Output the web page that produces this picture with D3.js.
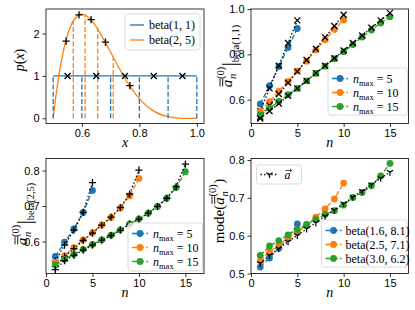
<!DOCTYPE html>
<html>
<head>
<meta charset="utf-8">
<script src="https://cdn.jsdelivr.net/npm/d3@7"></script>
<style>
  body { margin: 0; background: #fff; }
  svg { font-family: "Liberation Serif", "DejaVu Serif", serif; }
  .tick text { font-size: 11px; fill: #000; }
  .tick line { stroke: #000; stroke-width: 0.8; }
</style>
</head>
<body>
<script>
// ---- panel 1: densities on [0.5, 1] ----
var curveX = [0.5, 0.505, 0.51, 0.52, 0.53, 0.54, 0.55, 0.56, 0.575, 0.6, 0.625, 0.65, 0.675, 0.7, 0.725, 0.75, 0.775, 0.8, 0.85, 0.9, 0.95, 1.0];
var curveY = [0, 0.29, 0.55, 1.02, 1.40, 1.72, 1.97, 2.16, 2.35, 2.46, 2.37, 2.16, 1.87, 1.56, 1.24, 0.94, 0.68, 0.46, 0.17, 0.04, 0.00, 0];
var flatX = [0.5, 1.0];
var flatY = [1, 1];
var blueEdges = [0.5, 0.6, 0.7, 0.8, 0.9, 1.0];
var blueCenters = [0.55, 0.65, 0.75, 0.85, 0.95];
var orangeEdges = [0.570, 0.611, 0.655, 0.709];
var orangeEdgeH = [2.29, 2.45, 2.13, 1.46];
var orangeCenters = [0.545, 0.590, 0.632, 0.682, 0.767];
var orangeCenterH = [1.82, 2.44, 2.33, 1.80, 0.77];

// ---- panels 2-4 ----
var nVals = [1, 2, 3, 4, 5, 6, 7, 8, 9, 10, 11, 12, 13, 14, 15];
var nmaxLabels = ["5", "10", "15"];

var u5Est = [0.581, 0.662, 0.746, 0.830, 0.914];
var u5Ref = [0.55, 0.65, 0.75, 0.85, 0.95];
var u10Est = [0.548, 0.591, 0.637, 0.681, 0.726, 0.770, 0.819, 0.864, 0.910, 0.952];
var u10Ref = [0.525, 0.575, 0.625, 0.675, 0.725, 0.775, 0.825, 0.875, 0.925, 0.975];
var u15Est = [0.533, 0.563, 0.592, 0.622, 0.650, 0.683, 0.716, 0.748, 0.781, 0.812, 0.843, 0.876, 0.907, 0.938, 0.966];
var u15Ref = [0.517, 0.550, 0.583, 0.617, 0.650, 0.683, 0.717, 0.750, 0.783, 0.817, 0.850, 0.883, 0.917, 0.950, 0.983];

var b5Est = [0.558, 0.598, 0.636, 0.682, 0.744];
var b5Ref = [0.545, 0.590, 0.632, 0.682, 0.766];
var b10Est = [0.541, 0.560, 0.583, 0.605, 0.625, 0.647, 0.668, 0.694, 0.729, 0.778];
var b10Ref = [0.530, 0.557, 0.580, 0.603, 0.624, 0.646, 0.669, 0.696, 0.734, 0.801];
var b15Est = [0.534, 0.550, 0.564, 0.578, 0.592, 0.605, 0.618, 0.633, 0.650, 0.664, 0.680, 0.699, 0.722, 0.752, 0.797];
var b15Ref = [0.521, 0.546, 0.561, 0.576, 0.590, 0.604, 0.617, 0.632, 0.649, 0.663, 0.680, 0.699, 0.722, 0.755, 0.818];

var modeLabels = ["beta(1.6, 8.1)", "beta(2.5, 7.1)", "beta(3.0, 6.2)"];
var mode1 = [0.517, 0.541, 0.567, 0.594, 0.631];
var mode2 = [0.533, 0.557, 0.576, 0.594, 0.608, 0.629, 0.649, 0.671, 0.697, 0.739];
var mode3 = [0.548, 0.573, 0.587, 0.602, 0.616, 0.630, 0.643, 0.656, 0.666, 0.681, 0.701, 0.714, 0.732, 0.758, 0.791];
var aBar = [0.527, 0.548, 0.566, 0.584, 0.601, 0.618, 0.634, 0.651, 0.668, 0.685, 0.702, 0.718, 0.735, 0.752, 0.768];

var colors = ["#1f77b4", "#ff7f0e", "#2ca02c"];
var DASH = "5,2.2", DOT = "1.4,2.2";

var svg = d3.select("body").append("svg").attr("width", 415).attr("height", 310);

function panel(box, xdom, ydom, xticks, yticks, xfmt, yfmt) {
  var g = svg.append("g").attr("transform", "translate(" + box.x + "," + box.y + ")");
  var x = d3.scaleLinear().domain(xdom).range([0, box.w]);
  var y = d3.scaleLinear().domain(ydom).range([box.h, 0]);
  var xa = g.append("g").attr("transform", "translate(0," + box.h + ")")
    .call(d3.axisBottom(x).tickValues(xticks).tickFormat(xfmt).tickSizeInner(3.5).tickSizeOuter(0).tickPadding(2));
  var ya = g.append("g")
    .call(d3.axisLeft(y).tickValues(yticks).tickFormat(yfmt).tickSizeInner(3.5).tickSizeOuter(0).tickPadding(3));
  xa.select(".domain").remove();
  ya.select(".domain").remove();
  return {g: g, x: x, y: y, box: box};
}

function frame(p) {
  p.g.append("rect").attr("width", p.box.w).attr("height", p.box.h)
    .attr("fill", "none").attr("stroke", "#000").attr("stroke-width", 0.8);
}

function drawLine(p, xs, ys, color, dash, curve) {
  var line = d3.line().curve(curve || d3.curveLinear)
    .x(function(d) { return p.x(d[0]); }).y(function(d) { return p.y(d[1]); });
  p.g.append("path").datum(d3.zip(xs, ys)).attr("d", line)
    .attr("fill", "none").attr("stroke", color).attr("stroke-width", 1.3)
    .attr("stroke-dasharray", dash || null);
}

function marker(g, cx, cy, kind, color) {
  var s = 3;
  if (kind == "o") {
    g.append("circle").attr("cx", cx).attr("cy", cy).attr("r", 3.4).attr("fill", color);
  } else if (kind == "x") {
    g.append("path").attr("d", "M" + (cx - s) + "," + (cy - s) + "L" + (cx + s) + "," + (cy + s) +
      "M" + (cx - s) + "," + (cy + s) + "L" + (cx + s) + "," + (cy - s))
      .attr("stroke", color).attr("stroke-width", 1.3);
  } else if (kind == "+") {
    s = 3.6;
    g.append("path").attr("d", "M" + (cx - s) + "," + cy + "L" + (cx + s) + "," + cy +
      "M" + cx + "," + (cy - s) + "L" + cx + "," + (cy + s))
      .attr("stroke", color).attr("stroke-width", 1.3);
  } else if (kind == "tri") {
    s = 3.6;
    g.append("path").attr("d", "M" + cx + "," + cy + "L" + cx + "," + (cy + s) +
      "M" + cx + "," + cy + "L" + (cx - s * 0.87) + "," + (cy - s * 0.5) +
      "M" + cx + "," + cy + "L" + (cx + s * 0.87) + "," + (cy - s * 0.5))
      .attr("stroke", color).attr("stroke-width", 1.2);
  }
}

function drawMarkers(p, xs, ys, kind, color) {
  xs.forEach(function(v, i) { marker(p.g, p.x(v), p.y(ys[i]), kind, color); });
}

function series(p, ys, kind, color, dash) {
  var xs = nVals.slice(0, ys.length);
  drawLine(p, xs, ys, color, dash);
  drawMarkers(p, xs, ys, kind, color);
}

function legendBox(p, lx, ly, w, h) {
  var lg = p.g.append("g").attr("transform", "translate(" + lx + "," + ly + ")");
  lg.append("rect").attr("width", w).attr("height", h).attr("rx", 2.5)
    .attr("fill", "#fff").attr("fill-opacity", 0.8).attr("stroke", "#d0d0d0").attr("stroke-width", 0.8);
  return lg;
}

function nmaxText(lg, tx, ty, val) {
  var t = lg.append("text").attr("x", tx).attr("y", ty).attr("font-size", 12);
  t.append("tspan").attr("font-style", "italic").text("n");
  t.append("tspan").attr("font-size", 8.5).attr("dy", 3).text("max");
  t.append("tspan").attr("dy", -3).text(" = " + val);
}

function textLen(sel) { return sel.node().getComputedTextLength(); }

// double-barred a with sub n and sup (0); returns next x
function aBarBar(t, x0, base, fs) {
  var a = t.append("text").attr("x", x0).attr("y", base).attr("font-size", fs).attr("font-style", "italic").text("a");
  var w = textLen(a);
  [0.62, 0.80].forEach(function(k) {
    t.append("line").attr("x1", x0 + 1).attr("x2", x0 + w + 1)
      .attr("y1", base - fs * k).attr("y2", base - fs * k).attr("stroke", "#000").attr("stroke-width", 0.9);
  });
  var sub = t.append("text").attr("x", x0 + w + 0.8).attr("y", base + 3.5).attr("font-size", fs * 0.7).attr("font-style", "italic").text("n");
  var sup = t.append("text").attr("x", x0 + w + 0.8).attr("y", base - fs * 0.52).attr("font-size", fs * 0.7).text("(0)");
  return x0 + w + 0.8 + Math.max(textLen(sub), textLen(sup));
}

// rotate a label built along local x (baseline 0) so that it reads upward, centred at (cx, cy)
function placeRotated(lab, len, cx, cy) {
  lab.attr("transform", "translate(" + cx + "," + cy + ") rotate(-90) translate(" + (-len / 2) + ",4)");
}

function condLabel(cx, cy, name) {
  var lab = svg.append("g");
  var nx = aBarBar(lab, 0, 0, 15);
  var bar = lab.append("text").attr("x", nx + 0.5).attr("y", 4).attr("font-size", 20).text("|");
  var bx = nx + 0.5 + textLen(bar);
  var nm = lab.append("text").attr("x", bx).attr("y", 7).attr("font-size", 10.5).text(name);
  placeRotated(lab, bx + textLen(nm), cx, cy);
}

function xLabel(p, txt, ty) {
  p.g.append("text").attr("x", p.box.w / 2).attr("y", p.box.h + ty).attr("text-anchor", "middle")
    .attr("font-size", 14).attr("font-style", "italic").text(txt);
}

var f1 = d3.format(".1f");
var fi = d3.format("d");

// ===== panel 1 =====
var p1 = panel({x: 46, y: 9, w: 158, h: 114.5}, [0.475, 1.025], [-0.123, 2.58],
  [0.6, 0.8, 1.0], [0, 1, 2], f1, fi);
drawLine(p1, flatX, flatY, colors[0]);
drawLine(p1, curveX, curveY, colors[1], null, d3.curveMonotoneX);
blueEdges.forEach(function(v) {
  p1.g.append("line").attr("x1", p1.x(v)).attr("x2", p1.x(v)).attr("y1", p1.y(0)).attr("y2", p1.y(1))
    .attr("stroke", colors[0]).attr("stroke-width", 1.3).attr("stroke-dasharray", DASH);
});
orangeEdges.forEach(function(v, i) {
  p1.g.append("line").attr("x1", p1.x(v)).attr("x2", p1.x(v)).attr("y1", p1.y(0)).attr("y2", p1.y(orangeEdgeH[i]))
    .attr("stroke", colors[1]).attr("stroke-width", 1.3).attr("stroke-dasharray", DASH);
});
drawMarkers(p1, blueCenters, blueCenters.map(function() { return flatY[0]; }), "x", "#000");
drawMarkers(p1, orangeCenters, orangeCenterH, "+", "#000");
frame(p1);
var lg1 = legendBox(p1, 79, 5, 75, 36);
["beta(1, 1)", "beta(2, 5)"].forEach(function(s, i) {
  var yy = 11 + i * 15;
  lg1.append("line").attr("x1", 5).attr("x2", 19).attr("y1", yy).attr("y2", yy).attr("stroke", colors[i]).attr("stroke-width", 1.3);
  lg1.append("text").attr("x", 24).attr("y", yy + 4).attr("font-size", 12).text(s);
});
xLabel(p1, "x", 23);
var pl = svg.append("text").attr("font-size", 14)
  .attr("transform", "translate(24,60) rotate(-90)").attr("text-anchor", "middle");
pl.append("tspan").attr("font-style", "italic").text("p");
pl.append("tspan").text("(");
pl.append("tspan").attr("font-style", "italic").text("x");
pl.append("tspan").text(")");

// ===== panels 2 and 3 =====
function nPanel(box, ydom, yticks, ests, refs, refKind, lgPos, name, lab) {
  var p = panel(box, [0, 17], ydom, [0, 5, 10, 15], yticks, fi, f1);
  ests.forEach(function(e, i) {
    series(p, e, "o", colors[i], DASH);
    series(p, refs[i], refKind, "#000", DOT);
  });
  frame(p);
  var lg = legendBox(p, lgPos[0], lgPos[1], lgPos[2], lgPos[3]);
  nmaxLabels.forEach(function(s, i) {
    var yy = 10.5 + i * 14;
    lg.append("line").attr("x1", 4).attr("x2", 20).attr("y1", yy).attr("y2", yy)
      .attr("stroke", colors[i]).attr("stroke-width", 1.3).attr("stroke-dasharray", DASH);
    marker(lg, 12, yy, "o", colors[i]);
    nmaxText(lg, 25, yy + 4, s);
  });
  xLabel(p, "n", 23);
  condLabel(lab[0], lab[1], name);
  return p;
}

nPanel({x: 251, y: 9, w: 157.5, h: 114.5}, [0.495, 1.0], [0.6, 0.8, 1.0],
  [u5Est, u10Est, u15Est], [u5Ref, u10Ref, u15Ref], "x", [77, 59, 79.5, 47], "beta(1,1)", [228, 56]);
nPanel({x: 46, y: 158.5, w: 158, h: 115}, [0.51, 0.834], [0.6, 0.7, 0.8],
  [b5Est, b10Est, b15Est], [b5Ref, b10Ref, b15Ref], "+", [82, 64.5, 74.5, 48], "beta(2,5)", [23, 214]);

// ===== panel 4 =====
var p4 = panel({x: 251, y: 158.5, w: 157.5, h: 115}, [0, 17], [0.5, 0.804],
  [0, 5, 10, 15], [0.5, 0.6, 0.7, 0.8], fi, f1);
[mode1, mode2, mode3].forEach(function(m, i) { series(p4, m, "o", colors[i], DASH); });
series(p4, aBar, "tri", "#000", DOT);
frame(p4);
var lg4a = legendBox(p4, 5.5, 6.5, 45, 19);
lg4a.append("line").attr("x1", 4).attr("x2", 22).attr("y1", 9.5).attr("y2", 9.5)
  .attr("stroke", "#000").attr("stroke-width", 1.3).attr("stroke-dasharray", DOT);
marker(lg4a, 13, 9.5, "tri", "#000");
lg4a.append("text").attr("x", 28).attr("y", 13.5).attr("font-size", 12).attr("font-style", "italic").text("a");
lg4a.append("path").attr("d", "M29,5.5L35,5.5M33.5,4L35.2,5.5L33.5,7").attr("fill", "none").attr("stroke", "#000").attr("stroke-width", 0.7);
var lg4b = legendBox(p4, 70.5, 61.5, 86, 47);
modeLabels.forEach(function(s, i) {
  var yy = 10.5 + i * 14;
  lg4b.append("line").attr("x1", 4).attr("x2", 20).attr("y1", yy).attr("y2", yy)
    .attr("stroke", colors[i]).attr("stroke-width", 1.3).attr("stroke-dasharray", DASH);
  marker(lg4b, 12, yy, "o", colors[i]);
  lg4b.append("text").attr("x", 24).attr("y", yy + 4).attr("font-size", 12).text(s);
});
xLabel(p4, "n", 23);
var ml = svg.append("g");
var mt = ml.append("text").attr("x", 0).attr("y", 0).attr("font-size", 15).text("mode(");
var mx = aBarBar(ml, textLen(mt), 0, 15);
var mc = ml.append("text").attr("x", mx + 0.5).attr("y", 0).attr("font-size", 15).text(")");
placeRotated(ml, mx + 0.5 + textLen(mc), 220, 211);
</script>
</body>
</html>
